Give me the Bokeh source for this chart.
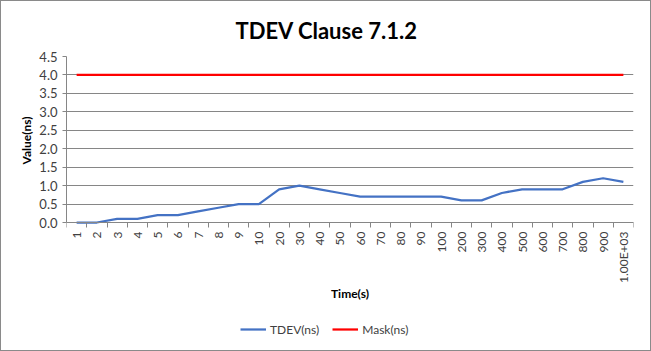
import math
from bokeh.plotting import figure
from bokeh.models import Range1d, FixedTicker, Legend, LegendItem, ColumnDataSource, Title
from bokeh.embed import file_html
from bokeh.resources import INLINE

categories = ["1", "2", "3", "4", "5", "6", "7", "8", "9", "10",
              "20", "30", "40", "50", "60", "70", "80", "90", "100",
              "200", "300", "400", "500", "600", "700", "800", "900", "1.00E+03"]
tdev = [0.0, 0.0, 0.1, 0.1, 0.2, 0.2, 0.3, 0.4, 0.5, 0.5,
        0.9, 1.0, 0.9, 0.8, 0.7, 0.7, 0.7, 0.7, 0.7,
        0.6, 0.6, 0.8, 0.9, 0.9, 0.9, 1.1, 1.2, 1.1]
mask = [4.0, 4.0, 4.0, 4.0, 4.0, 4.0, 4.0, 4.0, 4.0, 4.0,
        4.0, 4.0, 4.0, 4.0, 4.0, 4.0, 4.0, 4.0, 4.0,
        4.0, 4.0, 4.0, 4.0, 4.0, 4.0, 4.0, 4.0, 4.0]
y_ticks = [0.0, 0.5, 1.0, 1.5, 2.0, 2.5, 3.0, 3.5, 4.0, 4.5]

FONT = "Lato"
GRAY = "#868686"

# layout geometry (pixels)
FRAME_W = 567
PLOT_H = 166          # height of the 0..4.5 value band
BELOW_H = 125         # room under the value band for tick labels, axis title, legend
Y_MAX = 4.5
y_start = -BELOW_H * Y_MAX / PLOT_H

idx = list(range(len(categories)))
src = ColumnDataSource(dict(x=idx, tdev=tdev, mask=mask))

p = figure(frame_width=FRAME_W, frame_height=PLOT_H + BELOW_H,
           output_backend="svg", toolbar_location=None,
           x_range=Range1d(-0.5, len(categories) - 0.5), y_range=Range1d(y_start, Y_MAX),
           min_border_left=65, min_border_right=17, min_border_top=55, min_border_bottom=3,
           title="TDEV Clause 7.1.2",
           styles={"border": "1px solid #8a8a8a"})
p.outline_line_color = None
p.background_fill_color = "white"
p.border_fill_color = "white"

p.title.align = "left"
p.title.offset = 169
p.title.text_font = FONT
p.title.text_font_size = "22px"
p.title.text_font_style = "bold"
p.title.text_color = "black"
p.title.standoff = 26

l1 = p.line("x", "tdev", source=src, line_color="#4472C4", line_width=2.25)
l2 = p.line("x", "mask", source=src, line_color="#FF0000", line_width=2.25)

# x axis (sits at value 0 inside the frame)
xa = p.xaxis[0]
xa.fixed_location = 0
xa.ticker = FixedTicker(ticks=idx, minor_ticks=[i - 0.5 for i in range(len(categories) + 1)])
xa.major_label_overrides = {i: c for i, c in enumerate(categories)}
xa.major_label_orientation = math.pi / 2
xa.major_tick_line_color = None
xa.major_tick_out = 0
xa.major_tick_in = 0
xa.minor_tick_line_color = GRAY
xa.minor_tick_out = 5
xa.minor_tick_in = 0
xa.axis_line_color = GRAY
xa.major_label_standoff = 4
xa.major_label_text_font = FONT
xa.major_label_text_font_size = "12px"
xa.major_label_text_color = "#404040"
xa.axis_label = "Time(s)"
xa.axis_label_text_font = FONT
xa.axis_label_text_font_size = "12px"
xa.axis_label_text_font_style = "bold"
xa.axis_label_text_color = "black"
xa.axis_label_standoff = 0

# y axis
ya = p.yaxis[0]
ya.bounds = (0, Y_MAX)
ya.ticker = FixedTicker(ticks=y_ticks)
ya.major_label_overrides = {t: f"{t:.1f}" for t in y_ticks}
ya.axis_line_color = GRAY
ya.major_tick_line_color = GRAY
ya.major_tick_out = 4
ya.major_tick_in = 0
ya.minor_tick_line_color = None
ya.major_label_standoff = 5
ya.major_label_text_font = FONT
ya.major_label_text_font_size = "13px"
ya.major_label_text_color = "#404040"

ytitle = Title(text="Value(ns)", align="left", offset=183, standoff=6,
               text_font=FONT, text_font_size="12px", text_font_style="bold",
               text_color="black")
p.add_layout(ytitle, "left")

p.xgrid.grid_line_color = None
p.ygrid.grid_line_color = GRAY
p.ygrid.ticker = FixedTicker(ticks=y_ticks)

legend = Legend(items=[LegendItem(label="TDEV(ns)", renderers=[l1]),
                       LegendItem(label="Mask(ns)", renderers=[l2])],
                orientation="horizontal", location=(174, 8),
                label_text_font=FONT, label_text_font_size="12px", label_text_color="#404040",
                border_line_color=None, background_fill_alpha=0,
                glyph_width=26, spacing=13, margin=0, padding=4, label_standoff=4)
p.add_layout(legend, "center")

open("out.html", "w").write(file_html(p, INLINE))
